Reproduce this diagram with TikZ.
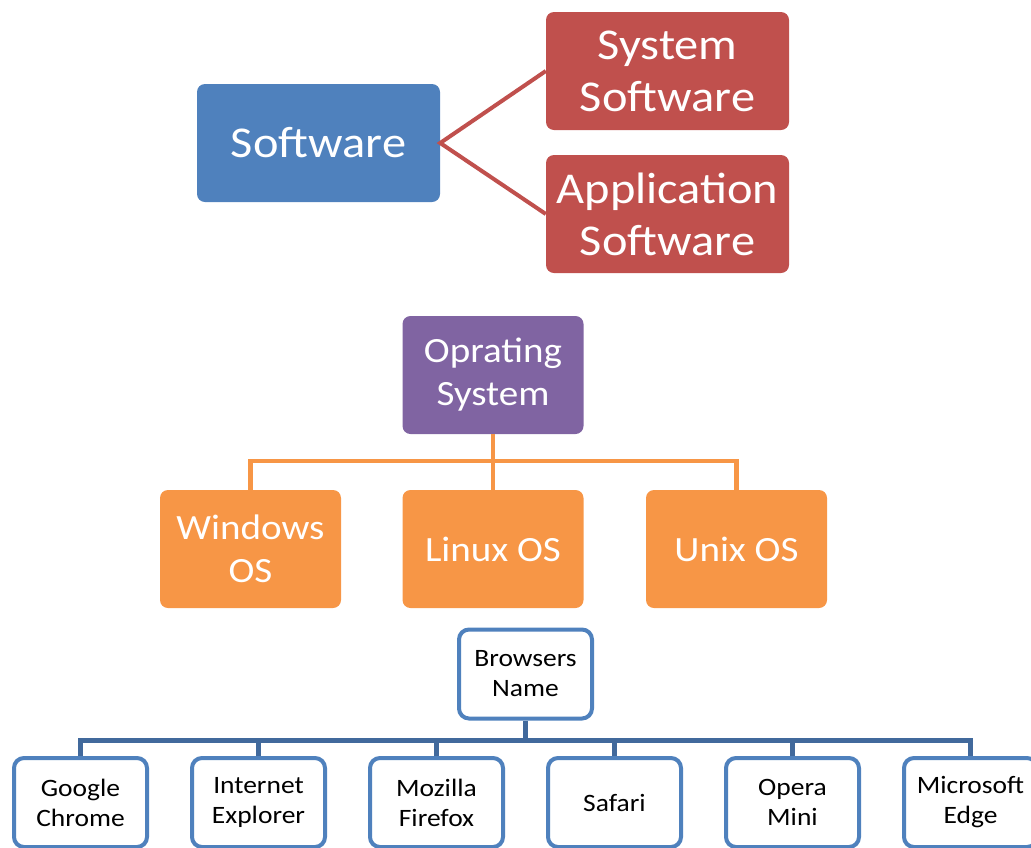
\documentclass[tikz,border=0pt]{standalone}
\usepackage{fontspec}
\setmainfont{Carlito}[FakeStretch=1.1]
\definecolor{cblue}{HTML}{4F81BD}
\definecolor{cred}{HTML}{C0504D}
\definecolor{cpurple}{HTML}{8064A2}
\definecolor{corange}{HTML}{F79646}
\definecolor{cline}{HTML}{41699C}
\tikzset{
  bigbox/.style={rectangle, rounded corners=8pt, draw=none, text=white, align=center,
    minimum width=243pt, minimum height=118pt, inner sep=0pt,
    font=\fontsize{44}{52}\selectfont},
  osbox/.style={rectangle, rounded corners=8pt, draw=none, text=white, align=center,
    minimum width=181pt, minimum height=118pt, inner sep=0pt,
    font=\fontsize{35.5}{43}\selectfont},
  brbox/.style={rectangle, rounded corners=10pt, draw=cblue, line width=4pt, fill=white,
    text=black, align=center, minimum width=133pt, minimum height=89pt, inner sep=0pt,
    font=\fontsize{25}{30}\selectfont},
}
\begin{document}
\begin{tikzpicture}[x=1pt,y=-1pt]
\useasboundingbox (0,0) rectangle (1031,847);
\clip (0,0) rectangle (1031,847);
% top
\node[bigbox, fill=cblue] (sw) at (318.5,143) {Software};
\node[bigbox, fill=cred] (sys) at (667.5,71) {System\\Software};
\node[bigbox, fill=cred] (app) at (667.5,214) {Application\\Software};
\draw[cred, line width=4pt] (sys.west) -- (sw.east) -- (app.west);
% OS
\node[osbox, fill=cpurple] (os) at (493,375) {Oprating\\System};
\node[osbox, fill=corange] (win) at (250.5,549) {Windows\\OS};
\node[osbox, fill=corange] (lin) at (493,549) {Linux OS};
\node[osbox, fill=corange] (unx) at (736.5,549) {Unix OS};
\coordinate (osj) at (493,461);
\draw[corange, line width=4.5pt] (os.south) -- (lin.north);
\draw[corange, line width=4.5pt] (win.north) |- (osj) -| (unx.north);
% browsers
\node[brbox] (br) at (525.5,674) {Browsers\\Name};
\node[brbox] (b1) at (80.5,802.5) {Google\\Chrome};
\node[brbox] (b2) at (258.5,802.5) {Internet\\Explorer};
\node[brbox] (b3) at (436.5,802.5) {Mozilla\\Firefox};
\node[brbox] (b4) at (614.5,802.5) {Safari};
\node[brbox] (b5) at (792.5,802.5) {Opera\\Mini};
\node[brbox] (b6) at (970.5,802.5) {Microsoft\\Edge};
\coordinate (brj) at (525.5,740);
\draw[cline, line width=5pt] (br.south) -- (brj);
\draw[cline, line width=5pt] (b1.north) |- (brj) -| (b6.north);
\foreach \n in {b2,b3,b4,b5} \draw[cline, line width=5pt] (\n.north) -- (\n.north |- brj);
\end{tikzpicture}
\end{document}
